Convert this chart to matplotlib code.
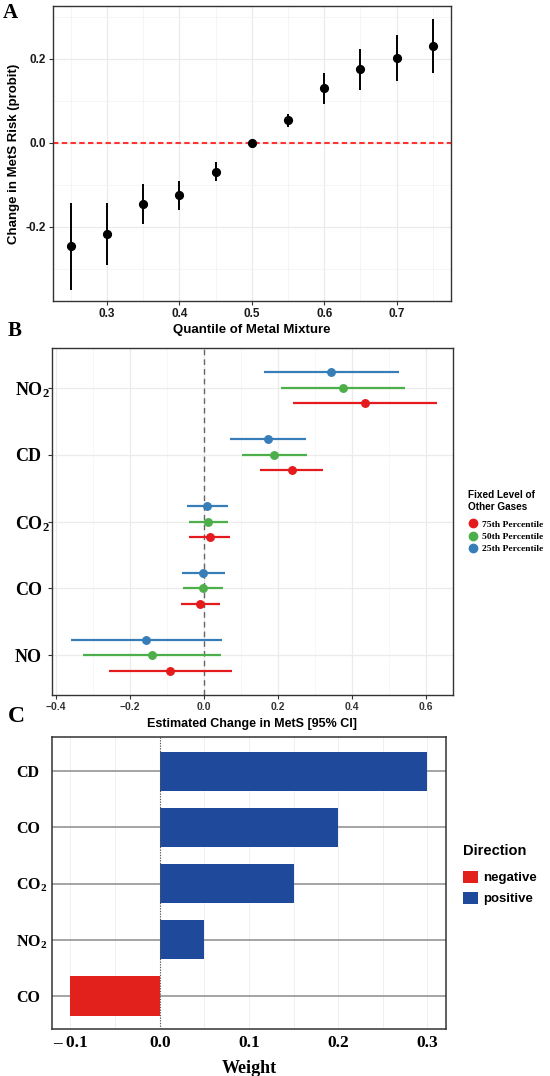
import matplotlib
matplotlib.use("Agg")
import matplotlib.pyplot as plt
from matplotlib.lines import Line2D
from matplotlib.patches import Patch
import numpy as np

plt.rcParams['mathtext.fontset'] = 'custom'
plt.rcParams['mathtext.rm'] = 'Liberation Serif:bold'
plt.rcParams['mathtext.it'] = 'Liberation Serif:bold'
plt.rcParams['mathtext.bf'] = 'Liberation Serif:bold'
plt.rcParams['mathtext.default'] = 'rm'

SANS = 'Liberation Sans'
SERIF = 'Liberation Serif'

# ---------------- Data: panel A ----------------
quantiles = [0.25, 0.30, 0.35, 0.40, 0.45, 0.50, 0.55, 0.60, 0.65, 0.70, 0.75]
est_A = [-0.246, -0.217, -0.146, -0.125, -0.070, 0.000, 0.053, 0.129, 0.175, 0.201, 0.229]
lo_A = [-0.350, -0.290, -0.193, -0.160, -0.092, 0.000, 0.038, 0.092, 0.126, 0.146, 0.165]
hi_A = [-0.143, -0.143, -0.098, -0.090, -0.046, 0.000, 0.068, 0.166, 0.223, 0.257, 0.294]
xticks_A = [0.3, 0.4, 0.5, 0.6, 0.7]
yticks_A = [-0.2, 0.0, 0.2]
ytick_labels_A = ['-0.2', '0.0', '0.2']

# ---------------- Data: panel B ----------------
gases_B = ['NO', 'CO', 'CO$_2$', 'CD', 'NO$_2$']
levels_B = ['75th Percentile', '50th Percentile', '25th Percentile']
colors_B = ['#E41A1C', '#4DAF4A', '#377EB8']
est_B = {
    '75th Percentile': [-0.090, -0.010, 0.016, 0.238, 0.435],
    '50th Percentile': [-0.140, -0.003, 0.012, 0.191, 0.376],
    '25th Percentile': [-0.155, -0.001, 0.010, 0.174, 0.344],
}
lo_B = {
    '75th Percentile': [-0.256, -0.062, -0.039, 0.152, 0.241],
    '50th Percentile': [-0.326, -0.057, -0.040, 0.104, 0.208],
    '25th Percentile': [-0.360, -0.060, -0.044, 0.071, 0.162],
}
hi_B = {
    '75th Percentile': [0.077, 0.043, 0.072, 0.322, 0.630],
    '50th Percentile': [0.047, 0.051, 0.065, 0.278, 0.545],
    '25th Percentile': [0.050, 0.058, 0.065, 0.277, 0.529],
}
offsets_B = [-0.234, 0.0, 0.234]
xticks_B = [-0.4, -0.2, 0.0, 0.2, 0.4, 0.6]

# ---------------- Data: panel C ----------------
vars_C = ['CO', 'NO$_2$', 'CO$_2$', 'CO', 'CD']
weights_C = [-0.10, 0.05, 0.15, 0.20, 0.30]
xticks_C = [-0.1, 0.0, 0.1, 0.2, 0.3]
xtick_labels_C = ['\u2013 0.1', '0.0', '0.1', '0.2', '0.3']
col_pos = '#1F4A9C'
col_neg = '#E3211C'

W, H = 550, 1076
fig = plt.figure(figsize=(W / 100, H / 100), dpi=100)


def px_axes(x0, y0, x1, y1):
    return fig.add_axes([x0 / W, 1 - y1 / H, (x1 - x0) / W, (y1 - y0) / H])


# ================= Panel A =================
axA = px_axes(52.6, 6, 451, 301.3)
axA.set_xlim(0.225, 0.775)
axA.set_ylim(-0.377, 0.325)
axA.set_xticks(xticks_A)
axA.set_xticks([0.25, 0.35, 0.45, 0.55, 0.65, 0.75], minor=True)
axA.set_yticks(yticks_A)
axA.set_yticklabels(ytick_labels_A)
axA.set_yticks([-0.3, -0.1, 0.1, 0.3], minor=True)
axA.grid(True, which='major', color='#EBEBEB', lw=0.9, zorder=0)
axA.grid(True, which='minor', color='#F2F2F2', lw=0.5, zorder=0)
axA.set_axisbelow(True)
axA.axhline(0, color='#FF3333', lw=1.5, dashes=(2.6, 1.6), zorder=1)
yerr = [np.array(est_A) - np.array(lo_A), np.array(hi_A) - np.array(est_A)]
axA.errorbar(quantiles, est_A, yerr=yerr, fmt='o', color='black', ms=5.6,
             elinewidth=1.4, capsize=0, zorder=3)
for s in axA.spines.values():
    s.set_color('#333333')
    s.set_linewidth(1.0)
axA.tick_params(which='major', length=3, color='#333333', width=0.8, pad=2)
axA.tick_params(which='minor', length=0)
for lab in axA.get_xticklabels() + axA.get_yticklabels():
    lab.set_fontfamily(SANS)
    lab.set_fontweight('bold')
    lab.set_fontsize(8.5)
    lab.set_color('#1A1A1A')
axA.set_xlabel('Quantile of Metal Mixture', fontfamily=SANS, fontweight='bold',
               fontsize=9.5, labelpad=3)
axA.set_ylabel('Change in MetS Risk (probit)', fontfamily=SANS, fontweight='bold',
               fontsize=9.5, labelpad=4)
fig.text(3 / W, 1 - 13.5 / H, 'A', fontfamily=SERIF, fontweight='bold', fontsize=15,
         va='center', ha='left')

# ================= Panel B =================
axB = px_axes(51.7, 347.7, 453, 695.3)
axB.set_xlim(-0.411, 0.674)
axB.set_ylim(0.40, 5.60)
ypos_B = np.arange(1, len(gases_B) + 1)
axB.set_yticks(ypos_B)
axB.set_yticklabels(gases_B)
axB.set_xticks(xticks_B)
axB.set_xticks([-0.3, -0.1, 0.1, 0.3, 0.5], minor=True)
axB.grid(True, which='major', color='#EBEBEB', lw=0.9, zorder=0)
axB.grid(True, which='minor', axis='x', color='#F4F4F4', lw=0.5, zorder=0)
axB.set_axisbelow(True)
axB.axvline(0, color='#666666', lw=1.0, ls=(0, (4, 3)), zorder=1)
for lev, col, off in zip(levels_B, colors_B, offsets_B):
    e = np.array(est_B[lev])
    xerr = [e - np.array(lo_B[lev]), np.array(hi_B[lev]) - e]
    axB.errorbar(e, ypos_B + off, xerr=xerr, fmt='o', color=col, ms=5.4,
                 elinewidth=1.6, capsize=0, zorder=3)
for s in axB.spines.values():
    s.set_color('#333333')
    s.set_linewidth(1.0)
axB.tick_params(which='major', length=3, color='#333333', width=0.8)
axB.tick_params(which='minor', length=0)
axB.tick_params(axis='y', pad=23.5)
axB.tick_params(axis='x', pad=2)
for lab in axB.get_xticklabels():
    lab.set_fontfamily(SANS)
    lab.set_fontweight('bold')
    lab.set_fontsize(7.5)
    lab.set_color('#333333')
for lab in axB.get_yticklabels():
    lab.set_fontfamily(SERIF)
    lab.set_fontweight('bold')
    lab.set_fontsize(13)
    lab.set_ha('left')
axB.set_xlabel('Estimated Change in MetS [95% CI]', fontfamily=SANS, fontweight='bold',
               fontsize=9, labelpad=4)
fig.text(8 / W, 1 - 331.5 / H, 'B', fontfamily=SERIF, fontweight='bold', fontsize=15,
         va='center', ha='left')
handlesB = [Line2D([], [], marker='o', ls='none', color=c, ms=6) for c in colors_B]
legB = fig.legend(handlesB, levels_B, loc='upper left',
                  bbox_to_anchor=(468 / W, 1 - 490 / H), frameon=False,
                  title='Fixed Level of\nOther Gases',
                  title_fontproperties={'family': SANS, 'weight': 'bold', 'size': 7.2},
                  prop={'family': SERIF, 'weight': 'bold', 'size': 6.8},
                  handlelength=1.0, handletextpad=0.5, labelspacing=0.4,
                  borderpad=0, borderaxespad=0, alignment='left')
legB._legend_box.sep = 6

# ================= Panel C =================
axC = px_axes(52.3, 737, 445.5, 1029)
axC.set_xlim(-0.1204, 0.3204)
axC.set_ylim(0.41, 5.61)
ypos_C = np.arange(1, len(vars_C) + 1)
for xv in np.arange(-0.10, 0.301, 0.05):
    if abs(xv) > 1e-9:
        axC.axvline(xv, color='#EFEFEF', lw=0.7, zorder=0)
for yv in ypos_C:
    axC.axhline(yv, color='#8C8C8C', lw=1.1, zorder=1)
bar_cols = [col_neg if w < 0 else col_pos for w in weights_C]
axC.barh(ypos_C, weights_C, height=0.70, color=bar_cols, zorder=2)
axC.axvline(0, color='#555555', lw=0.8, ls=(0, (1.2, 1.2)), zorder=3)
axC.set_xticks(xticks_C)
axC.set_xticklabels(xtick_labels_C)
axC.set_yticks(ypos_C)
axC.set_yticklabels(vars_C)
for s in axC.spines.values():
    s.set_color('#333333')
    s.set_linewidth(1.1)
axC.tick_params(axis='x', length=0, pad=4)
axC.tick_params(axis='y', length=0, pad=26)
for lab in axC.get_xticklabels():
    lab.set_fontfamily(SERIF)
    lab.set_fontweight('bold')
    lab.set_fontsize(12.5)
for lab in axC.get_yticklabels():
    lab.set_fontfamily(SERIF)
    lab.set_fontweight('bold')
    lab.set_fontsize(11.5)
    lab.set_ha('left')
axC.set_xlabel('Weight', fontfamily=SERIF, fontweight='bold', fontsize=13, labelpad=7)
fig.text(8 / W, 1 - 717 / H, 'C', fontfamily=SERIF, fontweight='bold', fontsize=17,
         va='center', ha='left')
handlesC = [Patch(facecolor=col_neg), Patch(facecolor=col_pos)]
legC = fig.legend(handlesC, ['negative', 'positive'], loc='upper left',
                  bbox_to_anchor=(463 / W, 1 - 844 / H), frameon=False,
                  title='Direction',
                  title_fontproperties={'family': SANS, 'weight': 'bold', 'size': 10.5},
                  prop={'family': SANS, 'weight': 'bold', 'size': 9.5},
                  handlelength=1.1, handleheight=1.1, handletextpad=0.4,
                  labelspacing=0.55, borderpad=0, borderaxespad=0, alignment='left')
legC._legend_box.sep = 9

fig.savefig('out.png', dpi=100)
